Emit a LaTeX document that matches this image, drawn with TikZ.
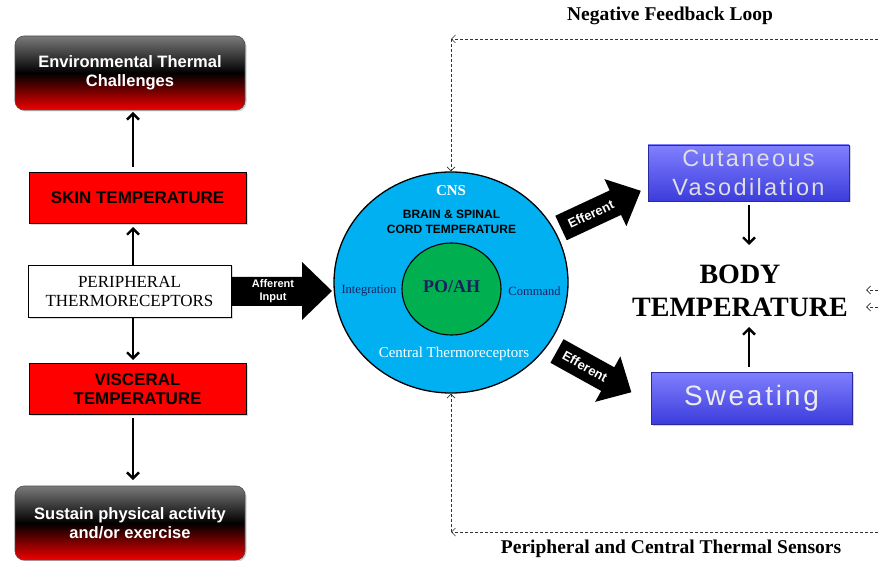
\documentclass[tikz,border=0pt]{standalone}
\usepackage{fontspec}
\setmainfont{Liberation Serif}
\setsansfont{Liberation Sans}
\newfontfamily\spacedsans[LetterSpace=10]{Liberation Sans}
\usetikzlibrary{arrows.meta,shapes.geometric,shadows}
\definecolor{cnsblue}{HTML}{00B0F0}
\definecolor{poahgreen}{HTML}{00B050}
\definecolor{navytxt}{HTML}{1F1F5F}
\definecolor{boxred}{HTML}{FF0000}
\definecolor{glossred}{HTML}{F00000}
\definecolor{glossgrey}{HTML}{7A7A7A}
\definecolor{bluetop}{HTML}{8080FF}
\definecolor{bluebot}{HTML}{3C3CDC}
\begin{document}
\begin{tikzpicture}[x=1pt,y=-1pt,
  glossbox/.style={rounded corners=9pt, draw=gray!60!black, line width=0.6pt,
    top color=glossgrey, bottom color=glossred, middle color=black,
    minimum width=230pt, minimum height=74pt, align=center, text=white,
    font=\sffamily\bfseries\fontsize{16.5}{19.5}\selectfont,
    drop shadow={opacity=0.35, shadow xshift=1.5pt, shadow yshift=-1.5pt}},
  redbox/.style={draw=black, line width=0.7pt, fill=boxred,
    minimum width=217pt, minimum height=51pt, align=center,
    font=\sffamily\bfseries\fontsize{17}{19.5}\selectfont,
    drop shadow={opacity=0.3, shadow xshift=1.5pt, shadow yshift=-1.5pt}},
  whitebox/.style={draw=black, line width=0.7pt, fill=white,
    minimum width=203pt, minimum height=52pt, align=center,
    font=\fontsize{17}{19}\selectfont,
    drop shadow={opacity=0.3, shadow xshift=1.5pt, shadow yshift=-1.5pt}},
  bluebox/.style={draw=bluebot!70!black, line width=0.6pt,
    top color=bluetop, bottom color=bluebot,
    minimum width=201pt, align=center,
    drop shadow={opacity=0.35, shadow xshift=1.5pt, shadow yshift=-1.5pt}},
  conn/.style={line width=2.4pt, -{Straight Barb[length=6pt,width=12pt]}},
  fb/.style={line width=0.7pt, dash pattern=on 3pt off 2pt, black!80,
    -{Straight Barb[length=4pt,width=8pt,line width=0.7pt]}},
  blockarrow/.style={fill=black},
  arrowtxt/.style={text=white, font=\sffamily\bfseries\fontsize{11}{12.5}\selectfont, align=center, inner sep=0pt},
  efftxt/.style={arrowtxt, font=\sffamily\bfseries\fontsize{13}{14}\selectfont},
  bigtitle/.style={font=\bfseries\fontsize{19.5}{22}\selectfont, text=black}
]
\useasboundingbox (0,0) rectangle (878,561);

% left column
\node[glossbox] (env) at (130,73) {Environmental Thermal\\Challenges};
\node[redbox] (skin) at (137.5,198) {SKIN TEMPERATURE};
\node[whitebox] (periph) at (129.5,291) {PERIPHERAL\\THERMORECEPTORS};
\node[redbox] (visc) at (137.5,389) {VISCERAL\\TEMPERATURE};
\node[glossbox] (sustain) at (130,523) {Sustain physical activity\\and/or exercise};

\coordinate (a1s) at (133,265); \coordinate (a1e) at (133,227);
\coordinate (a2s) at (133,167); \coordinate (a2e) at (133,112);
\coordinate (a3s) at (133,317); \coordinate (a3e) at (133,360);
\coordinate (a4s) at (133,418); \coordinate (a4e) at (133,480);
\draw[conn] (a1s) -- (a1e);
\draw[conn] (a2s) -- (a2e);
\draw[conn] (a3s) -- (a3e);
\draw[conn] (a4s) -- (a4e);

% CNS
\node[ellipse, draw=black, line width=1.3pt, fill=cnsblue, minimum width=234pt, minimum height=221pt] (cns) at (451,282.5) {};
\node[ellipse, draw=black, line width=1.1pt, fill=poahgreen, minimum width=99pt, minimum height=92pt] (poah) at (451.5,289) {};
\node[text=navytxt, font=\bfseries\fontsize{18}{20}\selectfont] (poahtxt) at (451.5,287) {PO/AH};
\node[text=white, font=\bfseries\fontsize{15}{17}\selectfont] (cnstxt) at (451,191) {CNS};
\node[align=center, font=\sffamily\bfseries\fontsize{12}{14.5}\selectfont] (brain) at (451.5,222) {BRAIN \& SPINAL\\CORD TEMPERATURE};
\node[text=navytxt, font=\fontsize{12.5}{14}\selectfont] (integ) at (369,291) {Integration};
\node[text=navytxt, font=\fontsize{12.5}{14}\selectfont] (command) at (534.5,291) {Command};
\node[text=white, font=\fontsize{15}{17}\selectfont] (central) at (454,354) {Central Thermoreceptors};

% afferent arrow
\fill[blockarrow] (231,277) -- (302,277) -- (302,262) -- (332,291) -- (302,320) -- (302,306) -- (231,306) -- cycle;
\node[arrowtxt] (afftxt) at (273,291) {Afferent\\Input};

% efferent arrows
\begin{scope}[shift={(561,228)}, rotate=25]
  \fill[blockarrow] (0,-13.5) -- (60,-13.5) -- (60,-26) -- (88,0) -- (60,26) -- (60,13.5) -- (0,13.5) -- cycle;
  \node[efftxt, rotate=25] (eff1) at (33,0) {Efferent};
\end{scope}
\begin{scope}[shift={(557,351)}, rotate=-29]
  \fill[blockarrow] (0,-13.5) -- (58,-13.5) -- (58,-26) -- (85,0) -- (58,26) -- (58,13.5) -- (0,13.5) -- cycle;
  \node[efftxt, rotate=-29] (eff2) at (32,0) {Efferent};
\end{scope}

% right side
\node[bluebox, minimum height=56pt, text=gray!25, font=\spacedsans\fontsize{23.5}{29}\selectfont] (cut) at (748.5,173) {Cutaneous\\Vasodilation};
\node[bluebox, minimum height=52pt, text=gray!15, font=\spacedsans\fontsize{28}{30}\selectfont] (sweat) at (751.5,398) {Sweating};
\node[align=center, font=\bfseries\fontsize{28}{33}\selectfont] (body) at (740,291) {BODY\\TEMPERATURE};
\coordinate (b1s) at (749,205); \coordinate (b1e) at (749,245);
\coordinate (b2s) at (749,367); \coordinate (b2e) at (749,327);
\draw[conn] (b1s) -- (b1e);
\draw[conn] (b2s) -- (b2e);

% feedback loop
\coordinate (tr) at (878,39); \coordinate (tc) at (451,39);
\coordinate (br) at (878,532); \coordinate (bc) at (451,532);
\draw[fb] (tr) -- (tc);
\draw[fb] (tc) -- (cns.north);
\draw[fb] (br) -- (bc);
\draw[fb] (bc) -- (cns.south);
\coordinate (r1s) at (878,290); \coordinate (r1e) at (866,290);
\coordinate (r2s) at (878,307); \coordinate (r2e) at (866,307);
\draw[fb] (r1s) -- (r1e);
\draw[fb] (r2s) -- (r2e);
\node[bigtitle] (neg) at (670,16) {Negative Feedback Loop};
\node[bigtitle] (sens) at (671,549) {Peripheral and Central Thermal Sensors};
\end{tikzpicture}
\end{document}
